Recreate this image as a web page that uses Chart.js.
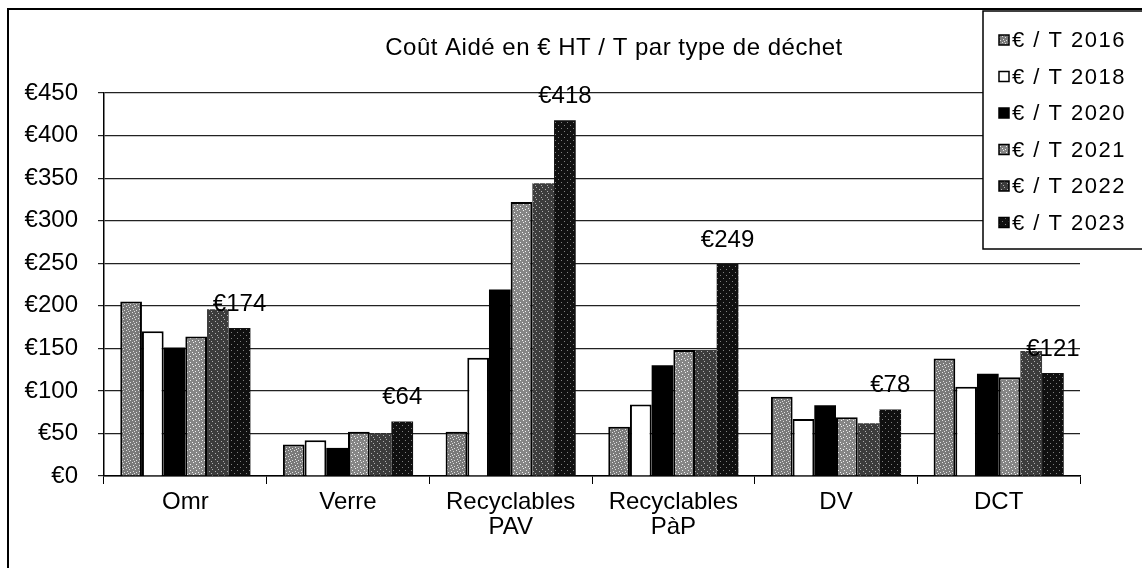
<!DOCTYPE html>
<html>
<head>
<meta charset="utf-8">
<script src="https://cdn.jsdelivr.net/npm/chart.js@4.4.1/dist/chart.umd.min.js"></script>
<style>
  html, body { margin: 0; padding: 0; background: #fff; }
  #wrap { position: relative; width: 1142px; height: 568px; }
</style>
</head>
<body>
<div id="wrap"><canvas id="chart" width="1142" height="568"></canvas></div>
<script>
// Data
const categories = ['Omr', 'Verre', ['Recyclables', 'PAV'], ['Recyclables', 'PàP'], 'DV', 'DCT'];
const years = ['€ / T 2016', '€ / T 2018', '€ / T 2020', '€ / T 2021', '€ / T 2022', '€ / T 2023'];
const cost2016 = [205, 37, 52, 58, 93, 138];
const cost2018 = [170, 42, 139, 84, 67, 105];
const cost2020 = [151, 33, 219, 130, 83, 120];
const cost2021 = [164, 52, 322, 148, 69, 116];
const cost2022 = [196, 50, 344, 148, 62, 147];
const cost2023 = [174, 64, 418, 249, 78, 121];
const yTicks = [0, 50, 100, 150, 200, 250, 300, 350, 400, 450];

const FONT = '"Liberation Sans", Arial, sans-serif';

// small stipple tiles to mimic the printed grey fills
function stipple(bg, dot, cells) {
    const c = document.createElement('canvas');
    c.width = 6; c.height = 6;
    const g = c.getContext('2d');
    g.fillStyle = bg;
    g.fillRect(0, 0, 6, 6);
    g.fillStyle = dot;
    cells.forEach(([x, y]) => g.fillRect(x, y, 1, 1));
    return g.createPattern(c, 'repeat');
}
const ctx = document.getElementById('chart').getContext('2d');
const fills = [
    stipple('#7a7a7a', '#e0e0e0', [[0, 0], [3, 1], [1, 3], [4, 4], [2, 5]]),
    '#ffffff',
    '#000000',
    stipple('#858585', '#f0f0f0', [[1, 0], [4, 2], [0, 4], [3, 5]]),
    stipple('#3c3c3c', '#b0b0b0', [[2, 1], [5, 3], [1, 5]]),
    stipple('#101010', '#808080', [[3, 2], [0, 5]])
];
const series = [cost2016, cost2018, cost2020, cost2021, cost2022, cost2023];

const datasets = series.map((vals, i) => ({
    label: years[i],
    data: vals,
    backgroundColor: fills[i],
    borderColor: '#000',
    borderWidth: (i === 0 || i === 1 || i === 3) ? 2 : 0,
    borderSkipped: 'bottom'
}));

// Frame, title, value labels on the last series and the boxed legend
const decor = {
    id: 'decor',
    afterDraw(chart) {
        const c = chart.ctx;
        c.save();
        c.strokeStyle = '#000';
        c.lineWidth = 2;
        c.beginPath();
        c.moveTo(8, 568); c.lineTo(8, 9); c.lineTo(1142, 9);
        c.stroke();

        c.fillStyle = '#000';
        c.font = '24px ' + FONT;
        c.letterSpacing = '0.5px';
        c.textAlign = 'center';
        c.textBaseline = 'middle';
        c.fillText('Coût Aidé en € HT / T par type de déchet', 614, 48);
        c.letterSpacing = '0px';

        // labels above the 2023 bars
        const meta = chart.getDatasetMeta(5);
        meta.data.forEach((bar, k) => {
            c.fillText('€' + cost2023[k], bar.x, bar.y - 24);
        });

        // legend box
        c.fillStyle = '#fff';
        c.fillRect(983, 11, 170, 238);
        c.lineWidth = 1.5;
        c.strokeRect(983, 11, 170, 238);
        c.font = '22px ' + FONT;
        c.letterSpacing = '1.5px';
        c.textAlign = 'left';
        years.forEach((lab, i) => {
            const y = 40 + i * 36.5;
            c.fillStyle = fills[i];
            c.fillRect(999, y - 5, 10, 10);
            c.strokeStyle = '#000';
            c.lineWidth = 1.5;
            c.strokeRect(999, y - 5, 10, 10);
            c.fillStyle = '#000';
            c.fillText(lab, 1012, y + 1);
        });
        c.restore();
    }
};

new Chart(ctx, {
    type: 'bar',
    data: { labels: categories, datasets: datasets },
    options: {
        responsive: false,
        animation: false,
        layout: { padding: { top: 93, right: 62, left: 0, bottom: 0 } },
        datasets: { bar: { categoryPercentage: 0.8, barPercentage: 1.0 } },
        plugins: {
            legend: { display: false },
            tooltip: { enabled: false }
        },
        scales: {
            x: {
                afterFit: (s) => { s.height = 92; },
                grid: {
                    offset: true,
                    drawOnChartArea: false,
                    tickLength: 8,
                    color: '#000'
                },
                border: { color: '#000', width: 1.5 },
                ticks: {
                    color: '#000',
                    font: { family: FONT, size: 24, lineHeight: 1.05 },
                    padding: 6,
                    maxRotation: 0,
                    autoSkip: false
                }
            },
            y: {
                min: 0,
                max: 450,
                afterFit: (s) => { s.width = 104; },
                afterBuildTicks: (s) => { s.ticks = yTicks.map(v => ({ value: v })); },
                grid: { color: '#222', lineWidth: 1.2, tickLength: 6 },
                border: { color: '#000', width: 1.5 },
                ticks: {
                    color: '#000',
                    font: { family: FONT, size: 24 },
                    padding: 20,
                    callback: (v) => '€' + v
                }
            }
        }
    },
    plugins: [decor]
});
</script>
</body>
</html>
